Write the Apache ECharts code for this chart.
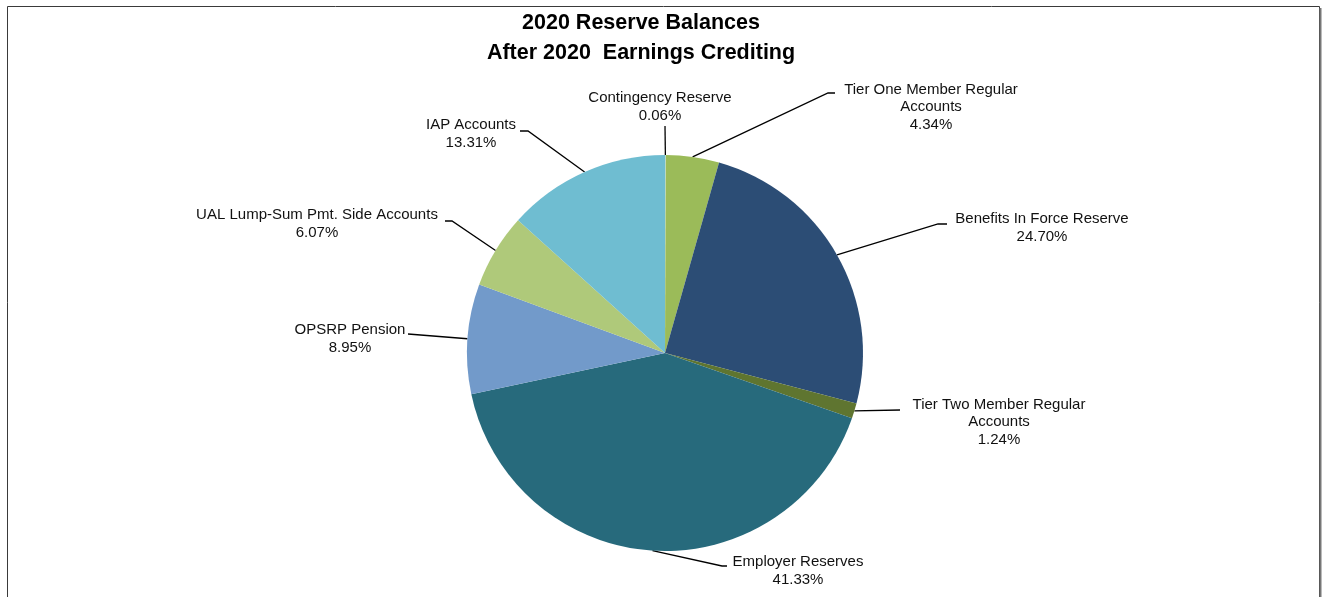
<!DOCTYPE html>
<html>
<head>
<meta charset="utf-8">
<title>2020 Reserve Balances</title>
<script src="https://cdn.jsdelivr.net/npm/echarts@6/dist/echarts.min.js"></script>
<style>
  html, body { margin: 0; padding: 0; background: #ffffff; }
  #chart { width: 1323px; height: 597px; }
</style>
</head>
<body>
<div id="chart"></div>
<script>
// Reserve names, clockwise from 12 o'clock
const reserveNames = [
  'Contingency Reserve',
  'Tier One Member Regular\nAccounts',
  'Benefits In Force Reserve',
  'Tier Two Member Regular\nAccounts',
  'Employer Reserves',
  'OPSRP Pension',
  'UAL Lump-Sum Pmt. Side Accounts',
  'IAP Accounts'
];

// Share of total reserves, percent
const reserveShares = [0.06, 4.34, 24.70, 1.24, 41.33, 8.95, 6.07, 13.31];

const titleLines = ['2020 Reserve Balances', 'After 2020  Earnings Crediting'];

// Slice fill colours
const sliceColors = [
  '#B7DDE8', '#9BBB59', '#2C4D75', '#5F7530',
  '#276A7C', '#729ACA', '#AFC97A', '#6FBDD1'
];

// Label block centres and leader-line elbows (pixels)
const labelCenters = [
  [660, 107], [931, 107], [1042, 228], [999, 422],
  [798, 571], [350, 339], [317, 224], [471, 134]
];
const leaderElbows = [
  [[665, 126], [665, 126]],
  [[828, 93], [835, 93]],
  [[938, 224], [947, 224]],
  [[900, 410], [900, 410]],
  [[722, 566], [727, 566]],
  [[408, 334], [408, 334]],
  [[452, 221], [445, 221]],
  [[528, 131], [520, 131]]
];

const chart = echarts.init(document.getElementById('chart'), null, { renderer: 'canvas' });

const pieData = reserveNames.map((name, i) => ({
  name: name,
  value: reserveShares[i],
  itemStyle: { color: sliceColors[i] }
}));

chart.setOption({
  animation: false,
  backgroundColor: '#ffffff',
  graphic: [
    {
      type: 'rect',
      shape: { x: 7.5, y: 6.5, width: 1312, height: 620 },
      style: { fill: null, stroke: '#3a3a3a', lineWidth: 1 },
      z: 0
    },
    {
      type: 'line',
      shape: { x1: 1320.5, y1: 8, x2: 1320.5, y2: 597 },
      style: { stroke: '#777777', lineWidth: 2 },
      z: 0
    }
  ],
  title: {
    text: titleLines.join('\n'),
    left: 636,
    top: 3,
    textAlign: 'center',
    textStyle: {
      fontFamily: 'Liberation Sans, Arial, sans-serif',
      fontWeight: 'bold',
      fontSize: 21.5,
      lineHeight: 30,
      color: '#000000'
    }
  },
  series: [{
    type: 'pie',
    center: [665, 353],
    radius: 198,
    startAngle: 90,
    clockwise: true,
    avoidLabelOverlap: false,
    data: pieData,
    itemStyle: { borderWidth: 0 },
    emphasis: { disabled: true },
    label: {
      show: true,
      position: 'outside',
      formatter: p => p.name + '\n' + p.value.toFixed(2) + '%',
      fontFamily: 'Liberation Sans, Arial, sans-serif',
      fontSize: 15,
      lineHeight: 17.5,
      color: '#111111',
      align: 'center'
    },
    labelLine: {
      show: true,
      length: 20,
      length2: 10,
      lineStyle: { color: '#000000', width: 1.3 }
    },
    labelLayout: function (params) {
      const i = params.dataIndex;
      const start = params.labelLinePoints ? params.labelLinePoints[0] : null;
      const out = {
        x: labelCenters[i][0],
        y: labelCenters[i][1],
        align: 'center',
        verticalAlign: 'middle'
      };
      if (start) {
        out.labelLinePoints = [
          [start[0], start[1]],
          leaderElbows[i][0],
          leaderElbows[i][1]
        ];
      }
      return out;
    }
  }]
});
</script>
</body>
</html>
